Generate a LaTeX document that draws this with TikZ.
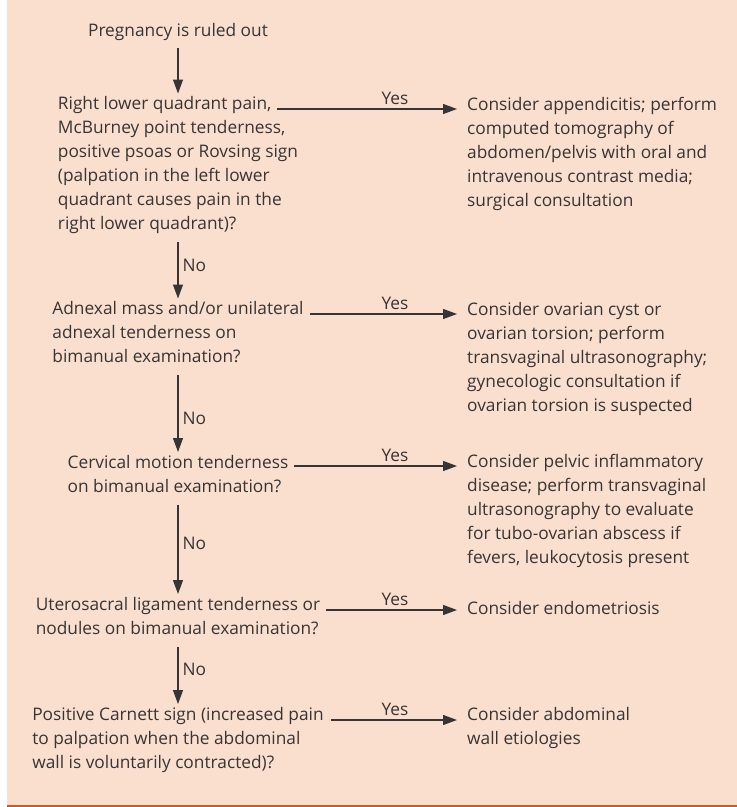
\documentclass[tikz,border=0pt]{standalone}
\usepackage{fontspec}
\setmainfont{Open Sans}
\usetikzlibrary{positioning,arrows.meta}
\definecolor{peach}{HTML}{FADFCF}
\definecolor{barorange}{HTML}{D9541E}
\definecolor{ink}{HTML}{363435}

\begin{document}
\begin{tikzpicture}[x=1pt,y=-1pt,
        txt/.style={inner sep=0pt,align=left,text=ink,font=\fontsize{17.3}{24}\selectfont,
                execute at begin node={\rule[-7pt]{0pt}{24pt}},execute at end node={\rule[-7pt]{0pt}{24pt}}},
        qbox/.style={txt,anchor=north},
        abox/.style={txt,anchor=north west,inner xsep=10pt},
        arr/.style={draw=ink,line width=1.2pt,-{Triangle[length=14pt,width=10pt]}},
        down/.style={arr,shorten <=5pt,shorten >=3pt},
        lbl/.style={text=ink,font=\fontsize{17.3}{20}\selectfont,inner sep=4pt}]
        \useasboundingbox (0,0) rectangle (737,807);
        \fill[peach] (7,0) rectangle (737,805);
        \fill[barorange] (7,805) rectangle (737,807);

        \node[qbox] (start) at (178,19) {Pregnancy is ruled out};
        \node[qbox] (rlq) at (178,96.5) {Right lower quadrant pain,\\McBurney point tenderness,\\positive psoas or Rovsing sign\\(palpation in the left lower\\quadrant causes pain in the\\right lower quadrant)?};
        \node[qbox] (adnexal) at (178,301.5) {Adnexal mass and/or unilateral\\adnexal tenderness on\\bimanual examination?};
        \node[qbox] (cervical) at (178,455) {Cervical motion tenderness\\on bimanual examination?};
        \node[qbox] (utero) at (178,597) {Uterosacral ligament tenderness or\\nodules on bimanual examination?};
        \node[qbox] (carnett) at (178,707) {Positive Carnett sign (increased pain\\to palpation when the abdominal\\wall is voluntarily contracted)?};

        \node[abox] (append) at (457,97) {Consider appendicitis; perform\\computed tomography of\\abdomen/pelvis with oral and\\intravenous contrast media;\\surgical consultation};
        \node[abox] (ovarian) at (457,302) {Consider ovarian cyst or\\ovarian torsion; perform\\transvaginal ultrasonography;\\gynecologic consultation if\\ovarian torsion is suspected};
        \node[abox] (pid) at (457,454) {Consider pelvic inflammatory\\disease; perform transvaginal\\ultrasonography to evaluate\\for tubo-ovarian abscess if\\fevers, leukocytosis present};
        \node[abox] (endo) at (457,597) {Consider endometriosis};
        \node[abox] (wall) at (457,707) {Consider abdominal\\wall etiologies};

        \coordinate (yescol) at (395,0);
        \coordinate (rlqyes) at (277,109);
        \coordinate (adnexalyes) at (310,314);
        \coordinate (cervicalyes) at (294,466);
        \coordinate (uteroyes) at (326,610);
        \coordinate (carnettyes) at (331,720);

        \draw[down] (start) -- (rlq);
        \draw[down] (rlq) -- (adnexal) node[lbl,right,pos=0.44] (no1) {No};
        \draw[down] (adnexal) -- (cervical) node[lbl,right,pos=0.57] (no2) {No};
        \draw[down] (cervical) -- (utero) node[lbl,right,pos=0.455] (no3) {No};
        \draw[down] (utero) -- (carnett) node[lbl,right,pos=0.43] (no4) {No};

        \draw[arr] (rlqyes) -- (rlqyes -| append.west);
        \draw[arr] (adnexalyes) -- (adnexalyes -| ovarian.west);
        \draw[arr] (cervicalyes) -- (cervicalyes -| pid.west);
        \draw[arr] (uteroyes) -- (uteroyes -| endo.west);
        \draw[arr] (carnettyes) -- (carnettyes -| wall.west);
        \node[lbl,above] (yes1) at (rlqyes -| yescol) {Yes};
        \node[lbl,above] (yes2) at (adnexalyes -| yescol) {Yes};
        \node[lbl,above] (yes3) at (cervicalyes -| yescol) {Yes};
        \node[lbl,above] (yes4) at (uteroyes -| yescol) {Yes};
        \node[lbl,above] (yes5) at (carnettyes -| yescol) {Yes};
\end{tikzpicture}
\end{document}
